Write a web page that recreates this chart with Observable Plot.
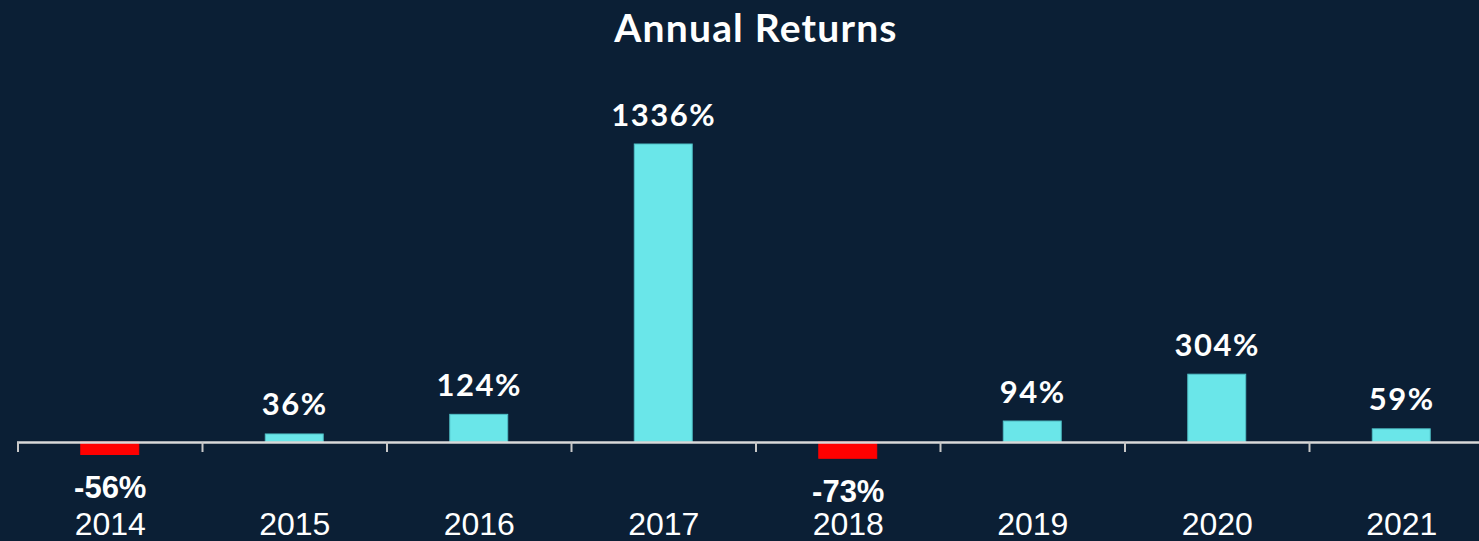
<!DOCTYPE html>
<html>
<head>
<meta charset="utf-8">
<script src="https://cdn.jsdelivr.net/npm/d3@7"></script>
<script src="https://cdn.jsdelivr.net/npm/@observablehq/plot@0.6"></script>
<style>
  html, body { margin: 0; padding: 0; background: #0b1f35; }
  #wrap { position: relative; width: 1479px; height: 541px; overflow: hidden; background: #0b1f35; }
  #title { position: absolute; top: 4px; left: 18px; width: 1476px; text-align: center;
           font-family: Lato, "Open Sans", sans-serif; font-weight: 700; font-size: 39px;
           letter-spacing: 1.2px; color: #ffffff; }
  svg { display: block; }
  .vlab text { letter-spacing: 1.5px; }
</style>
</head>
<body>
<div id="wrap">
  <div id="chart"></div>
  <div id="title">Annual Returns</div>
</div>
<script>
const years = ["2014", "2015", "2016", "2017", "2018", "2019", "2020", "2021"];
const returns = [-56, 36, 124, 1336, -73, 94, 304, 59];
const labels = ["-56%", "36%", "124%", "1336%", "-73%", "94%", "304%", "59%"];

const data = years.map((y, i) => ({ year: y, value: returns[i], label: labels[i] }));
const step = (1494 - 18) / years.length;

const chart = Plot.plot({
  width: 1479,
  height: 541,
  marginLeft: 17,
  marginRight: 0,
  marginTop: 60,
  marginBottom: 29,
  style: { background: "transparent", color: "#ffffff", overflow: "visible" },
  x: { domain: years, range: [17.5, 1493.5], paddingInner: 0.686, paddingOuter: 0.343, round: false, label: null },
  y: { domain: [0, 1336], range: [442, 144], axis: null },
  marks: [
    Plot.barY(data, {
      x: "year", y: "value",
      fill: d => d.value < 0 ? "#ff0000" : "#6ae6e9",
      stroke: d => d.value < 0 ? "#ff0000" : "#4fbfc6", strokeWidth: 1
    }),
    Plot.ruleY([0], { stroke: "#d9d9d9", strokeWidth: 2.5 }),
    Plot.ruleX(data, { x: "year", y1: 0, y2: 0, dx: -step / 2, insetBottom: -10, stroke: "#c8c8c8", strokeWidth: 2 }),
    Plot.text(data.filter(d => d.value >= 0), {
      x: "year", y: "value", text: "label", lineAnchor: "bottom", dy: -19,
      fill: "#ffffff", fontSize: 31, fontWeight: 700, fontFamily: "Lato, sans-serif", className: "vlab"
    }),
    Plot.text(data.filter(d => d.value < 0), {
      x: "year", y: "value", text: "label", lineAnchor: "top", dy: 21,
      fill: "#ffffff", fontSize: 31, fontWeight: 700, fontFamily: "Liberation Sans, Arial, sans-serif"
    }),
    Plot.axisX({
      anchor: "bottom", tickSize: 0, tickPadding: 0, fontSize: 32,
      fontFamily: "Liberation Sans, Arial, sans-serif", fill: "#ffffff", label: null
    })
  ]
});
document.getElementById("chart").appendChild(chart);
</script>
</body>
</html>
